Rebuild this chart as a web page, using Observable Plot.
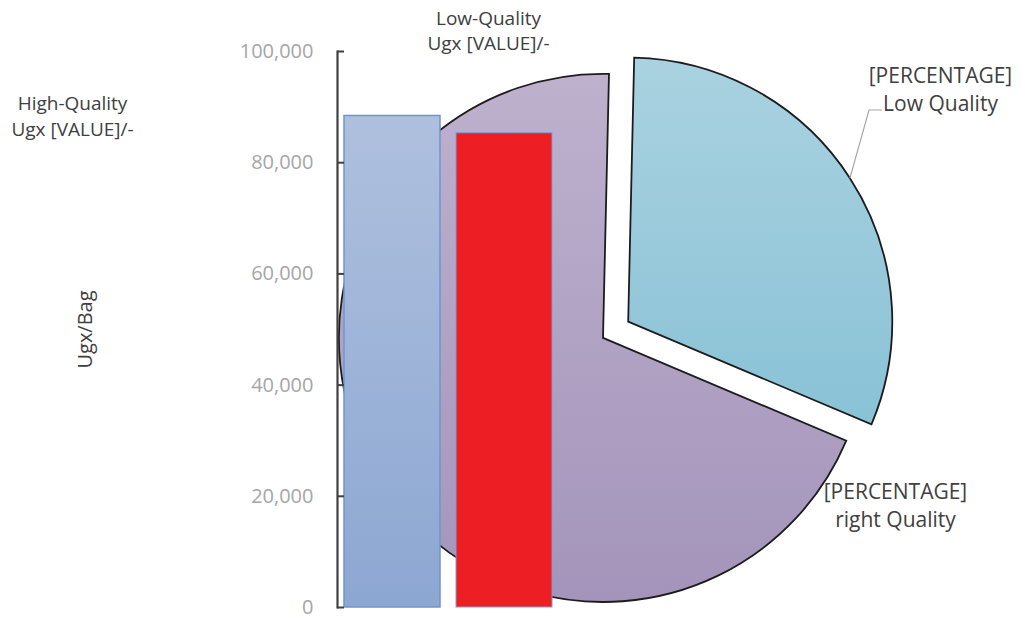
<!DOCTYPE html>
<html><head><meta charset="utf-8">
<script src="https://cdn.jsdelivr.net/npm/d3@7"></script>
<script src="https://cdn.jsdelivr.net/npm/@observablehq/plot@0.6"></script>
<style>
html,body{margin:0;padding:0;background:#fff;}
#chart{width:1022px;height:619px;}
</style></head><body><div id="chart"></div>
<script>
// ---- Data ----
const barCategories = ["High-Quality", "Low-Quality"];
const barValues = [88400, 85300];
const barLabels = ["High-Quality\nUgx [VALUE]/-", "Low-Quality\nUgx [VALUE]/-"];

const pieCategories = ["Low Quality", "right Quality"];
const pieValues = [31, 69];
const pieLabels = ["[PERCENTAGE]\nLow Quality", "[PERCENTAGE]\nright Quality"];

const yTicks = [0, 20000, 40000, 60000, 80000, 100000];
const yLabel = "Ugx/Bag";

// ---- Tables ----
const bars = barCategories.map((c, i) => ({category: c, value: barValues[i]}));
const slices = pieCategories.map((c, i) => ({category: c, value: pieValues[i]}));

// ---- Layout constants ----
const pieCenterOffsetX = 266;      // px from frame left
const pieCenterValue = 48400;      // y-scale units
const pieRadiusValue = 47500;      // y-scale units
const pieExplode = 30;             // px
const pieStart = 1.3 * Math.PI / 180;
const textColor = "#404040";

function pieMark(index, scales, values, dimensions) {
  const y = scales.y;
  const cx = dimensions.marginLeft + pieCenterOffsetX;
  const cy = y(pieCenterValue);
  const r = y(0) - y(pieRadiusValue);
  const g = d3.create("svg:g");
  const defs = g.append("defs");
  const grads = [
    ["gradBlue", "#aad2e0", "#89c2d6"],
    ["gradPurple", "#beb1cd", "#a494bb"],
    ["gradHigh", "#afc0de", "#8ca7d2"]
  ];
  for (const [id, c0, c1] of grads) {
    const lg = defs.append("linearGradient").attr("id", id)
      .attr("x1", 0).attr("y1", 0).attr("x2", 0).attr("y2", 1);
    lg.append("stop").attr("offset", "0%").attr("stop-color", c0);
    lg.append("stop").attr("offset", "100%").attr("stop-color", c1);
  }
  const arcs = d3.pie().sort(null).value(d => d.value)
    .startAngle(pieStart).endAngle(pieStart + 2 * Math.PI)(slices);
  const arc = d3.arc().innerRadius(0).outerRadius(r);
  const fills = ["url(#gradBlue)", "url(#gradPurple)"];
  arcs.forEach((a, i) => {
    const mid = (a.startAngle + a.endAngle) / 2;
    const off = i === 0 ? pieExplode : 0;
    const tx = cx + off * Math.sin(mid), ty = cy - off * Math.cos(mid);
    g.append("path").attr("d", arc(a))
      .attr("transform", `translate(${tx},${ty})`)
      .attr("fill", fills[i])
      .attr("stroke", "#1c1c1c").attr("stroke-width", 1.8)
      .attr("stroke-linejoin", "miter");
    if (i === 0) {
      const sx = tx + r * Math.sin(mid), sy = ty - r * Math.cos(mid);
      const lx = dimensions.marginLeft + 532, ly = dimensions.marginTop + 59;
      g.append("path")
        .attr("d", `M${sx},${sy}L${lx},${ly}h13`)
        .attr("fill", "none").attr("stroke", "#a6a6a6").attr("stroke-width", 1.2);
    }
  });
  return g.node();
}

const chart = Plot.plot({
  width: 1022,
  height: 619,
  marginTop: 51,
  marginBottom: 12,
  marginLeft: 337,
  marginRight: 463,
  style: {fontFamily: "'Open Sans', sans-serif", background: "#fff", overflow: "visible"},
  x: {domain: barCategories, paddingInner: 0.147, paddingOuter: 0.062, axis: null},
  y: {domain: [0, 100000]},
  marks: [
    pieMark,
    Plot.barY(bars.filter(d => d.category === barCategories[0]), {
      x: "category", y: "value", fill: "url(#gradHigh)", stroke: "#6f95cf", strokeWidth: 1.5
    }),
    Plot.barY(bars.filter(d => d.category === barCategories[1]), {
      x: "category", y: "value", fill: "#ed1f24", stroke: "#7c9fd5", strokeWidth: 1
    }),
    Plot.frame({anchor: "left", stroke: "#404040", strokeWidth: 2.2}),
    Plot.axisY(yTicks, {tickSize: -7, text: null, label: null, stroke: "#404040", strokeWidth: 2}),
    Plot.axisY(yTicks, {
      tickSize: 0, tickPadding: 24, tickFormat: d3.format(","),
      fill: "#a6a6a6", fontSize: 20, label: null
    }),
    Plot.text([yLabel], {
      text: d => d, frameAnchor: "left", dx: -252, rotate: -90,
      textAnchor: "middle", fontSize: 20, fill: textColor
    }),
    Plot.text([barLabels[0]], {
      text: d => d, frameAnchor: "top-left", dx: -265, dy: 63, textAnchor: "middle",
      lineAnchor: "middle", lineHeight: 1.35, fontSize: 19, fill: textColor
    }),
    Plot.text([barLabels[1]], {
      text: d => d, frameAnchor: "top-left", dx: 151, dy: -22, textAnchor: "middle",
      lineAnchor: "middle", lineHeight: 1.3, fontSize: 19, fill: textColor
    }),
    Plot.text([pieLabels[0]], {
      text: d => d, frameAnchor: "top-left", dx: 603, dy: 37, textAnchor: "middle",
      lineAnchor: "middle", lineHeight: 1.33, fontSize: 21, fill: textColor
    }),
    Plot.text([pieLabels[1]], {
      text: d => d, frameAnchor: "top-left", dx: 558, dy: 453, textAnchor: "middle",
      lineAnchor: "middle", lineHeight: 1.33, fontSize: 21, fill: textColor
    })
  ]
});
document.getElementById("chart").appendChild(chart);
</script>
</body></html>
